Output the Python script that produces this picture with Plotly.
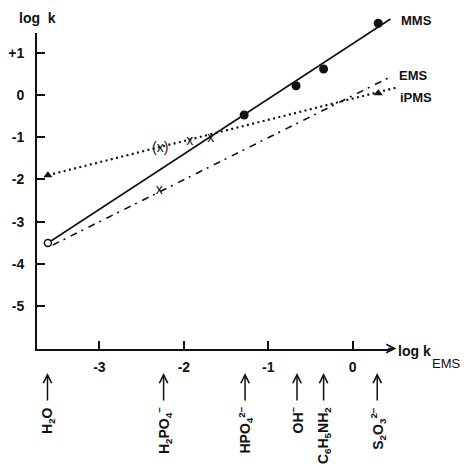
import plotly.graph_objects as go

# ---------------- data ----------------
nuc_names = ["H<sub>2</sub>O", "H<sub>2</sub>PO<sub>4</sub><sup>−</sup>", "HPO<sub>4</sub><sup>2−</sup>",
             "OH<sup>−</sup>", "C<sub>6</sub>H<sub>5</sub>NH<sub>2</sub>", "S<sub>2</sub>O<sub>3</sub><sup>2−</sup>"]
nuc_logk_ems = [-3.615, -2.24, -1.275, -0.66, -0.345, 0.29]

# MMS (solid line): filled circles, open circle for water
mms_x = [-1.286, -0.671, -0.345, 0.302]
mms_y = [-0.474, 0.22, 0.616, 1.70]
water_x = [-3.61]
water_y = [-3.507]
mms_fit_x = [-3.61, 0.447]
mms_fit_y = [-3.507, 1.80]

# EMS (dash-dot line)
ems_x = [-2.29]
ems_y = [-2.27]
ems_fit_x = [-3.553, 0.467]
ems_fit_y = [-3.555, 0.45]

# iPMS (dotted line)
ipms_tri_x = [-3.61, 0.302]
ipms_tri_y = [-1.90, 0.04]
ipms_cross_x = [-2.28, -1.93, -1.68]
ipms_cross_y = [-1.26, -1.09, -1.02]
ipms_cross_txt = ["(x)", "x", "x"]
ipms_fit_x = [-3.61, 0.526]
ipms_fit_y = [-1.90, 0.18]

x_ticks = [-3, -2, -1, 0]
x_tick_text = ["-3", "-2", "-1", "0"]
y_ticks = [1, 0, -1, -2, -3, -4, -5]
y_tick_text = ["+1", "0", "-1", "-2", "-3", "-4", "-5"]

# ---------------- layout helpers ----------------
OFF = 8                              # page body margin
W, H = 471 - 2 * OFF, 474 - 2 * OFF  # figure size so that the page fits the window exactly
FONT = "Liberation Sans, Arial, sans-serif"
INK = "#111111"

# window-pixel calibration: px_x = 352 + 85*v ; px_y = 95 - 42.2*v
X0, SX = 352.0, 85.0
Y0, SY = 95.0, 42.2
def vx(px):
    return (px - X0) / SX
def vy(py):
    return (Y0 - py) / SY

fig = go.Figure()

fig.add_trace(go.Scatter(x=mms_fit_x, y=mms_fit_y, mode="lines",
                         line=dict(color=INK, width=1.6), xaxis="x2", yaxis="y2"))
fig.add_trace(go.Scatter(x=ems_fit_x, y=ems_fit_y, mode="lines",
                         line=dict(color=INK, width=1.6, dash="7px,5px,2px,6px"), xaxis="x2", yaxis="y2"))
fig.add_trace(go.Scatter(x=ipms_fit_x, y=ipms_fit_y, mode="lines",
                         line=dict(color=INK, width=2.2, dash="2px,3.4px"), xaxis="x2", yaxis="y2"))
fig.add_trace(go.Scatter(x=mms_x, y=mms_y, mode="markers",
                         marker=dict(symbol="circle", size=9, color=INK), xaxis="x2", yaxis="y2"))
fig.add_trace(go.Scatter(x=water_x, y=water_y, mode="markers",
                         marker=dict(symbol="circle", size=7, color="white", line=dict(color=INK, width=1.5)),
                         xaxis="x2", yaxis="y2"))
fig.add_trace(go.Scatter(x=ipms_tri_x, y=ipms_tri_y, mode="markers",
                         marker=dict(symbol="triangle-up", size=8, color=INK), xaxis="x2", yaxis="y2"))
fig.add_trace(go.Scatter(x=ipms_cross_x, y=ipms_cross_y, mode="text", text=ipms_cross_txt,
                         textfont=dict(family=FONT, size=14, color=INK), xaxis="x2", yaxis="y2"))
fig.add_trace(go.Scatter(x=ems_x, y=ems_y, mode="text", text=["x"],
                         textfont=dict(family=FONT, size=14, color=INK), xaxis="x2", yaxis="y2"))

fig.add_trace(go.Scatter(x=[0], y=[0], mode="markers", marker=dict(opacity=0), xaxis="x", yaxis="y"))

ann = []
for txt, px, py in [("MMS", 399, 20), ("EMS", 397, 75), ("iPMS", 398, 97)]:
    ann.append(dict(x=vx(px), y=vy(py), xref="x2", yref="y2", text="<b>%s</b>" % txt, showarrow=False,
                    xanchor="left", yanchor="middle", font=dict(family=FONT, size=13, color=INK)))
ann.append(dict(x=vx(35), y=vy(18), xref="x2", yref="y2", text="<b>log&nbsp;&nbsp;k</b>", showarrow=False,
                xanchor="center", yanchor="middle", font=dict(family=FONT, size=14, color=INK)))
ann.append(dict(x=vx(396), y=vy(351), xref="x2", yref="y2", text="<b>log k</b>", showarrow=False,
                xanchor="left", yanchor="middle", font=dict(family=FONT, size=14, color=INK)))
ann.append(dict(x=vx(462.5), y=vy(363), xref="x2", yref="y2", text="EMS", showarrow=False,
                xanchor="right", yanchor="middle", font=dict(family=FONT, size=13, color=INK)))
ann.append(dict(x=vx(396), y=vy(348.5), ax=vx(386), ay=vy(348.5), xref="x2", yref="y2",
                axref="x2", ayref="y2", text="", showarrow=True, arrowhead=5, arrowsize=1.1,
                arrowwidth=1.5, arrowcolor=INK, standoff=0, startstandoff=0))
for name, xv in zip(nuc_names, nuc_logk_ems):
    ann.append(dict(x=xv, y=vy(373), ax=xv, ay=vy(402), xref="x2", yref="y2", axref="x2", ayref="y2",
                    text="", showarrow=True, arrowhead=5, arrowsize=1.1, arrowwidth=1.5,
                    arrowcolor=INK, standoff=0, startstandoff=0))
    ann.append(dict(x=xv, y=vy(405), xref="x2", yref="y2", text="<b>%s</b>" % name, showarrow=False,
                    textangle=-90, xanchor="center", yanchor="top",
                    font=dict(family=FONT, size=14, color=INK)))

fig.update_layout(
    width=W, height=H, margin=dict(l=0, r=0, t=0, b=0),
    paper_bgcolor="white", plot_bgcolor="rgba(0,0,0,0)", showlegend=False,
    annotations=ann,
    xaxis=dict(domain=[(34 - OFF) / W, (392 - OFF) / W], range=[vx(34), vx(392)], anchor="y",
               showgrid=False, zeroline=False, showline=True, linecolor=INK, linewidth=1.5,
               ticks="inside", ticklen=8, tickwidth=1.5, tickcolor=INK,
               tickvals=x_ticks, ticktext=["<b>%s</b>" % t for t in x_tick_text], ticklabelstandoff=5,
               tickfont=dict(family=FONT, size=14, color=INK), fixedrange=True),
    yaxis=dict(domain=[1 - (348.5 - OFF) / H, 1 - (33 - OFF) / H], range=[vy(348.5), vy(33)], anchor="x",
               showgrid=False, zeroline=False, showline=True, linecolor=INK, linewidth=1.5,
               ticks="inside", ticklen=8, tickwidth=1.5, tickcolor=INK,
               tickvals=y_ticks, ticktext=["<b>%s</b>" % t for t in y_tick_text], ticklabelstandoff=8,
               tickfont=dict(family=FONT, size=14, color=INK), fixedrange=True),
    xaxis2=dict(domain=[0, 1], range=[vx(OFF), vx(OFF + W)], anchor="y2", visible=False, fixedrange=True),
    yaxis2=dict(domain=[0, 1], range=[vy(OFF + H), vy(OFF)], anchor="x2", visible=False, fixedrange=True),
)

fig.write_html("out.html")
